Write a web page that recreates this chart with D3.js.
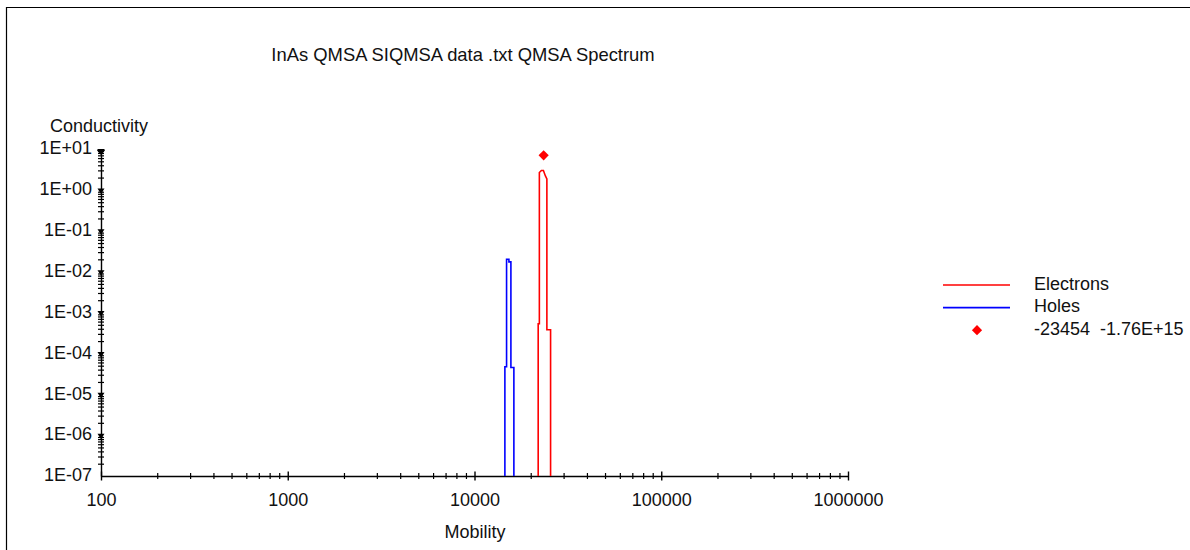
<!DOCTYPE html>
<html>
<head>
<meta charset="utf-8">
<script src="https://cdn.jsdelivr.net/npm/d3@7"></script>
<style>
  body { margin: 0; background: #fff; }
  svg { font-family: "Liberation Sans", Arial, sans-serif; font-size: 18px; }
  text { fill: #111; }
</style>
</head>
<body>
<div class="container"></div>
<script>
// chart window 1190 x 550
const width = 1190;
const height = 550;

const title = 'InAs QMSA SIQMSA data .txt QMSA Spectrum';

// x ticks (mobility) and y ticks (conductivity)
const xMajors = [100, 1000, 10000, 100000, 1000000];
const yMajors = [1e-7, 1e-6, 1e-5, 1e-4, 1e-3, 1e-2, 1e-1, 1, 10];

// electrons spectrum
const electronMob = [21930, 21930, 22250, 22250, 22810, 23390, 23970, 24410, 24410, 25550, 25550];
const electronCond = [1e-7, 5.3e-4, 5.3e-4, 2.66, 2.98, 2.98, 2.19, 1.85, 3.8e-4, 3.8e-4, 1e-7];

// holes spectrum
const holeMob = [14545, 14545, 14850, 14850, 15285, 15285, 15665, 15665, 16250, 16250];
const holeCond = [1e-7, 4.7e-5, 4.7e-5, 2.01e-2, 2.01e-2, 1.73e-2, 1.73e-2, 4.5e-5, 4.5e-5, 1e-7];

// single fitted point
const pointMob = [23454];
const pointCond = [7.0];
const pointLabel = '-23454  -1.76E+15';

const legendNames = ['Electrons', 'Holes', pointLabel];
const legendColors = ['#ff0000', '#0000ff', '#ff0000'];

function zip(xs, ys) {
    return xs.map((x, i) => ({ x, y: ys[i] }));
}

function minorsOf(majors) {
    const out = [];
    for (let i = 0; i < majors.length - 1; i++) {
        for (let k = 2; k <= 9; k++) out.push(majors[i] * k);
    }
    return out;
}

function yFormat(v) {
    const e = Math.round(Math.log10(v));
    const s = e < 0 ? '-' : '+';
    return '1E' + s + String(Math.abs(e)).padStart(2, '0');
}

const svg = d3.select('.container')
    .append('svg')
    .attr('width', width)
    .attr('height', height);

// frame
svg.append('path')
    .attr('d', 'M6.5,' + height + 'V7.5H' + width)
    .attr('fill', 'none')
    .attr('stroke', '#000')
    .attr('stroke-width', 1.2);

const x = d3.scaleLog().domain([100, 1000000]).range([101, 848]);
const y = d3.scaleLog().domain([1e-7, 10]).range([476, 149]);

svg.append('text')
    .attr('x', 463)
    .attr('y', 56)
    .attr('text-anchor', 'middle')
    .attr('dominant-baseline', 'middle')
    .style('font-size', '18.4px')
    .text(title);

svg.append('text')
    .attr('x', 50)
    .attr('y', 127)
    .attr('dominant-baseline', 'middle')
    .text('Conductivity');

svg.append('text')
    .attr('x', 475)
    .attr('y', 533)
    .attr('text-anchor', 'middle')
    .attr('dominant-baseline', 'middle')
    .text('Mobility');

// x axis
const gx = svg.append('g').attr('transform', 'translate(0,476)');
gx.call(d3.axisBottom(x).tickValues(minorsOf(xMajors)).tickFormat('').tickSizeOuter(0));
gx.selectAll('.tick line').attr('y1', -3).attr('y2', 3).attr('stroke-width', 1.2);
const gx2 = svg.append('g').attr('transform', 'translate(0,476)');
gx2.call(d3.axisBottom(x).tickValues(xMajors).tickFormat(d3.format('d')).tickSizeOuter(0));
gx2.select('.domain').remove();
gx2.selectAll('.tick line').attr('y1', -4.5).attr('y2', 4.5).attr('stroke-width', 1.4);
gx2.selectAll('.tick text')
    .attr('y', 25).attr('dy', null)
    .attr('dominant-baseline', 'middle')
    .style('font-size', '18px')
    .style('font-family', '"Liberation Sans", Arial, sans-serif')
    .attr('fill', '#111');

// y axis
const gy = svg.append('g').attr('transform', 'translate(101,0)');
gy.call(d3.axisLeft(y).tickValues(minorsOf(yMajors)).tickFormat('').tickSizeOuter(0));
gy.selectAll('.tick line').attr('x1', -3).attr('x2', 3).attr('stroke-width', 1.2);
const gy2 = svg.append('g').attr('transform', 'translate(101,0)');
gy2.call(d3.axisLeft(y).tickValues(yMajors).tickFormat(yFormat).tickSize(0).tickPadding(9));
gy2.select('.domain').remove();
gy2.selectAll('.tick text')
    .attr('dy', null)
    .attr('dominant-baseline', 'middle')
    .style('font-size', '18px')
    .style('font-family', '"Liberation Sans", Arial, sans-serif')
    .attr('fill', '#111');
gy2.selectAll('.tick')
    .filter(d => d < 10 && d > 1e-7)
    .append('path')
    .attr('d', 'M-3.5,-2L3.5,-2L0,3.5Z')
    .attr('fill', '#000');
gy2.selectAll('.tick')
    .filter(d => d === 10)
    .append('path')
    .attr('d', 'M-3.5,0H3.5M-3.5,1L3.5,1L0,5Z')
    .attr('stroke', '#000')
    .attr('fill', '#000');

svg.selectAll('.domain').attr('stroke', '#000').attr('stroke-width', 1.4);

// spectra
const line = d3.line().x(d => x(d.x)).y(d => y(d.y));

svg.append('path')
    .datum(zip(holeMob, holeCond))
    .attr('d', line)
    .attr('fill', 'none')
    .attr('stroke', '#0000ff')
    .attr('stroke-width', 1.6);

svg.append('path')
    .datum(zip(electronMob, electronCond))
    .attr('d', line)
    .attr('fill', 'none')
    .attr('stroke', '#ff0000')
    .attr('stroke-width', 1.6);

const diamond = d3.symbol(d3.symbolSquare, 52);

svg.selectAll('.pt')
    .data(zip(pointMob, pointCond))
    .enter()
    .append('path')
    .attr('class', 'pt')
    .attr('d', diamond)
    .attr('transform', d => `translate(${x(d.x)},${y(d.y)}) rotate(45)`)
    .attr('fill', '#ff0000');

// legend
const leg = svg.selectAll('.leg')
    .data(legendNames)
    .enter()
    .append('g')
    .attr('class', 'leg')
    .attr('transform', (d, i) => `translate(0,${285 + i * 22.6})`);

leg.filter((d, i) => i < 2)
    .append('line')
    .attr('x1', 943).attr('x2', 1010)
    .attr('stroke', (d, i) => legendColors[i])
    .attr('stroke-width', 1.6);

leg.filter((d, i) => i === 2)
    .append('path')
    .attr('d', diamond)
    .attr('transform', 'translate(977,0) rotate(45)')
    .attr('fill', legendColors[2]);

leg.append('text')
    .attr('x', 1034)
    .attr('dominant-baseline', 'middle')
    .style('white-space', 'pre')
    .text(d => d);
</script>
</body>
</html>
